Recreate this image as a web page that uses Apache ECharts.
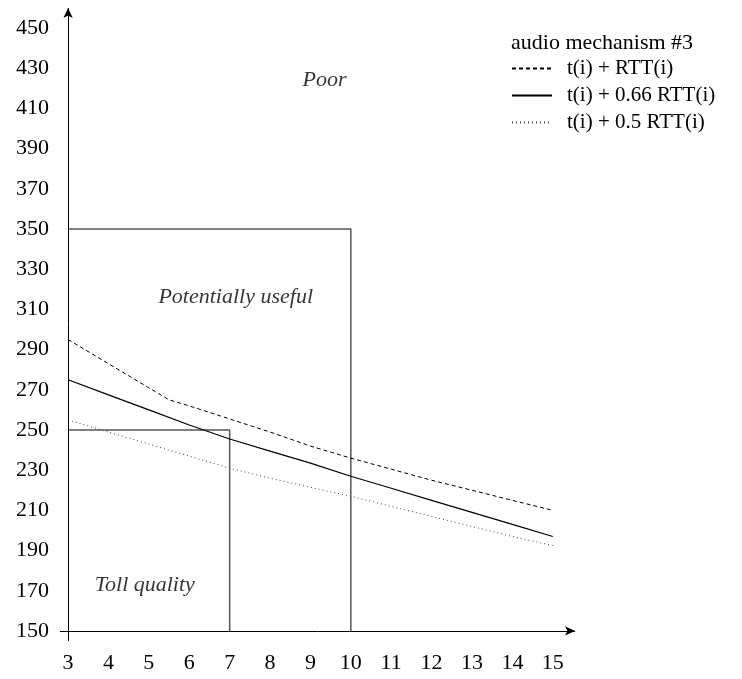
<!DOCTYPE html>
<html>
<head>
<meta charset="utf-8">
<script src="https://cdn.jsdelivr.net/npm/echarts@6/dist/echarts.min.js"></script>
<style>
html, body { margin: 0; padding: 0; background: #fff; }
#chart { width: 742px; height: 679px; }
</style>
</head>
<body>
<div id="chart"></div>
<script>
// tick labels
const xTicks = [3, 4, 5, 6, 7, 8, 9, 10, 11, 12, 13, 14, 15];
const yTicks = [150, 170, 190, 210, 230, 250, 270, 290, 310, 330, 350, 370, 390, 410, 430, 450];

// series: t(i) + RTT(i)
const fullX = [3, 4, 5, 5.5, 6, 7, 8, 9, 10, 11, 12, 13, 14, 15];
const fullY = [295, 283, 271, 265, 262, 255.5, 249, 242, 236, 230.5, 225, 220, 215, 210];
// series: t(i) + 0.66 RTT(i)
const twoThirdX = [3, 4, 5, 6, 7, 8, 9, 10, 11, 12, 13, 14, 15];
const twoThirdY = [275, 267.5, 260, 252.5, 245.5, 239.5, 233.5, 227, 221, 215, 209, 203, 197];
// series: t(i) + 0.5 RTT(i)
const halfX = [3, 4, 5, 6, 7, 8, 9, 10, 11, 12, 13, 14, 15];
const halfY = [255, 249, 243, 237, 231, 226, 221.5, 217, 212, 207, 202, 197, 192.5];

const seriesNames = ['t(i) + RTT(i)', 't(i) + 0.66 RTT(i)', 't(i) + 0.5 RTT(i)'];

// quality regions (upper-right corner of each box)
const tollBox = [[3, 250], [7, 250], [7, 150]];
const usefulBox = [[3, 350], [10, 350], [10, 150]];

const regionNames = ['Poor', 'Potentially useful', 'Toll quality'];
const regionX = [9.35, 7.15, 4.9];
const regionY = [424, 316, 173];

const xMin = 2.8, xMax = 15.55, yMin = 145, yMax = 460;

const FONT = 'Liberation Serif';

const zip = (xs, ys) => xs.map((x, i) => [x, ys[i]]);

const chart = echarts.init(document.getElementById('chart'));

const lineBase = {
  type: 'line',
  symbol: 'none',
  silent: true,
  animation: false,
};

const option = {
  animation: false,
  title: {
    text: 'audio mechanism #3',
    left: 511,
    top: 32,
    padding: 0,
    textStyle: { fontFamily: FONT, fontSize: 22, fontWeight: 'normal', color: '#000' },
  },
  legend: {
    orient: 'vertical',
    left: 511,
    top: 58,
    padding: 0,
    itemWidth: 40,
    itemHeight: 10,
    itemGap: 6,
    data: seriesNames,
    itemStyle: { opacity: 0 },
    textStyle: {
      fontFamily: FONT, fontSize: 21, color: '#000', lineHeight: 20,
      padding: [0, 0, 0, 10],
    },
  },
  grid: { left: 60, right: 167, top: 8, bottom: 38 },
  xAxis: {
    type: 'value',
    min: xMin,
    max: xMax,
    axisLine: { show: false },
    axisTick: { show: false },
    splitLine: { show: false },
    axisLabel: {
      customValues: xTicks,
      margin: 11,
      fontFamily: FONT,
      fontSize: 22,
      color: '#000',
    },
  },
  yAxis: {
    type: 'value',
    min: yMin,
    max: yMax,
    axisLine: { show: false },
    axisTick: { show: false },
    splitLine: { show: false },
    axisLabel: {
      customValues: yTicks,
      margin: 11,
      fontFamily: FONT,
      fontSize: 22,
      color: '#000',
    },
  },
  series: [
    Object.assign({}, lineBase, {
      name: seriesNames[0],
      data: zip(fullX, fullY),
      lineStyle: { color: '#000', width: 1, type: [4, 3] },
      itemStyle: { color: '#000' },
    }),
    Object.assign({}, lineBase, {
      name: seriesNames[1],
      data: zip(twoThirdX, twoThirdY),
      lineStyle: { color: '#000', width: 1.2, type: 'solid' },
      itemStyle: { color: '#000' },
    }),
    Object.assign({}, lineBase, {
      name: seriesNames[2],
      data: zip(halfX, halfY),
      lineStyle: { color: '#444', width: 1, type: [1, 3] },
      itemStyle: { color: '#444' },
    }),
    Object.assign({}, lineBase, {
      name: 'toll',
      data: tollBox,
      lineStyle: { color: '#555', width: 1.5 },
      z: 1,
    }),
    Object.assign({}, lineBase, {
      name: 'useful',
      data: usefulBox,
      lineStyle: { color: '#555', width: 1.5 },
      z: 1,
      // the two arrowed axes
      markLine: {
        silent: true,
        symbol: ['none', 'arrow'],
        symbolSize: [7, 10],
        label: { show: false },
        lineStyle: { color: '#000', width: 1, type: 'solid' },
        emphasis: { disabled: true },
        data: [
          [{ coord: [xMin, 150] }, { coord: [xMax, 150] }],
          [{ coord: [3, yMin] }, { coord: [3, yMax] }],
        ],
      },
    }),
    {
      type: 'scatter',
      silent: true,
      symbolSize: 0,
      data: regionNames.map((n, i) => ({ name: n, value: [regionX[i], regionY[i]] })),
      label: {
        show: true,
        position: 'inside',
        formatter: (p) => p.name,
        fontFamily: FONT,
        fontStyle: 'italic',
        fontSize: 22,
        color: '#000',
      },
    },
  ],
};

chart.setOption(option);
</script>
</body>
</html>
